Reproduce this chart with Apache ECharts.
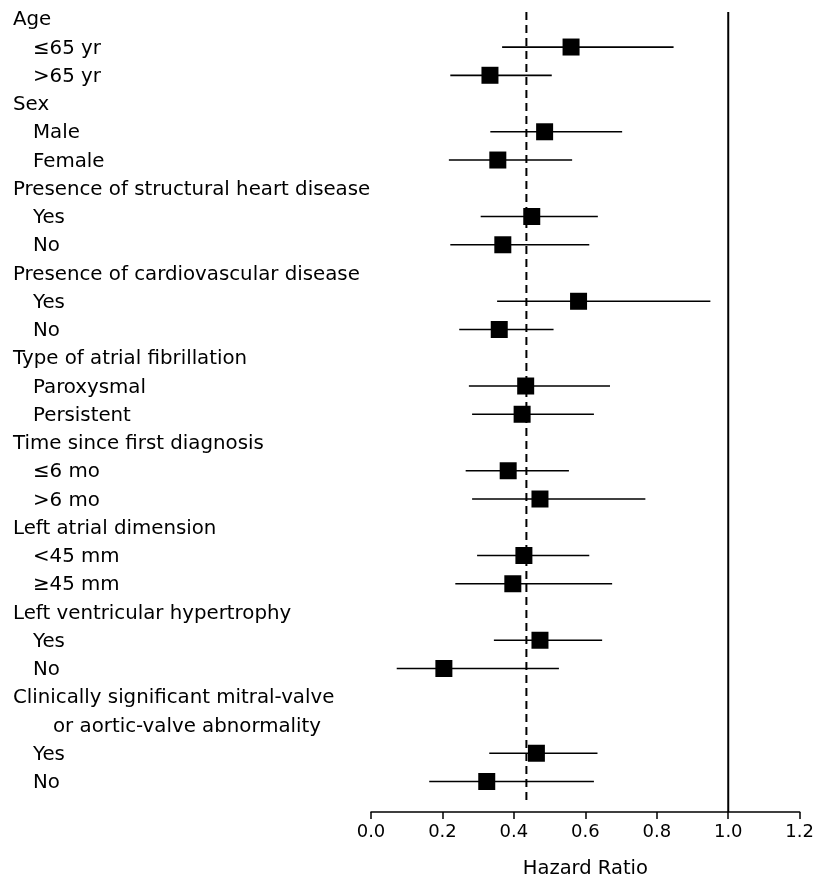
<!DOCTYPE html>
<html>
<head>
<meta charset="utf-8">
<script src="https://cdn.jsdelivr.net/npm/echarts@6/dist/echarts.min.js"></script>
<style>
  html, body { margin: 0; padding: 0; background: #fff; }
  #chart { width: 817px; height: 884px; }
</style>
</head>
<body>
<div id="chart"></div>
<script>
// rows top to bottom; level 0 = group heading, 1 = subgroup, 2 = heading continuation
const rowLabels = [
  "Age", "≤65 yr", ">65 yr",
  "Sex", "Male", "Female",
  "Presence of structural heart disease", "Yes", "No",
  "Presence of cardiovascular disease", "Yes", "No",
  "Type of atrial fibrillation", "Paroxysmal", "Persistent",
  "Time since first diagnosis", "≤6 mo", ">6 mo",
  "Left atrial dimension", "<45 mm", "≥45 mm",
  "Left ventricular hypertrophy", "Yes", "No",
  "Clinically significant mitral-valve", "or aortic-valve abnormality", "Yes", "No"
];
const rowLevel = [0,1,1, 0,1,1, 0,1,1, 0,1,1, 0,1,1, 0,1,1, 0,1,1, 0,1,1, 0,2,1,1];

const hazardRatio = [null, 0.56, 0.333, null, 0.486, 0.355, null, 0.45, 0.369, null, 0.581, 0.359,
  null, 0.433, 0.423, null, 0.384, 0.473, null, 0.428, 0.397, null, 0.473, 0.204, null, null, 0.463, 0.324];
const ciLow = [null, 0.367, 0.222, null, 0.334, 0.218, null, 0.307, 0.222, null, 0.353, 0.247,
  null, 0.274, 0.283, null, 0.265, 0.283, null, 0.297, 0.236, null, 0.344, 0.072, null, null, 0.331, 0.163];
const ciHigh = [null, 0.847, 0.506, null, 0.703, 0.563, null, 0.635, 0.611, null, 0.95, 0.511,
  null, 0.669, 0.624, null, 0.554, 0.768, null, 0.611, 0.675, null, 0.647, 0.526, null, null, 0.634, 0.624];

const overallHR = 0.435;

const chart = echarts.init(document.getElementById("chart"));

const rows = rowLabels.map((_, i) => i);
const ciData = [];
const pointData = [];
rows.forEach((i) => {
  if (hazardRatio[i] != null) {
    ciData.push([ciLow[i], ciHigh[i], i]);
    pointData.push([hazardRatio[i], i]);
  }
});

const FONT = "DejaVu Sans";

chart.setOption({
  animation: false,
  grid: { left: 371, right: 15, top: 12, bottom: 71 },
  xAxis: {
    type: "value",
    min: 0,
    max: 1.2,
    interval: 0.2,
    axisLine: { onZero: false, lineStyle: { color: "#000", width: 1.5 } },
    axisTick: { length: 7, lineStyle: { color: "#000", width: 1.5 } },
    splitLine: { show: false },
    axisLabel: {
      margin: 11,
      color: "#000",
      fontFamily: FONT,
      fontSize: 18,
      formatter: (v) => v.toFixed(1),
    },
    name: "Hazard Ratio",
    nameLocation: "middle",
    nameGap: 47,
    nameTextStyle: { color: "#000", fontFamily: FONT, fontSize: 19.5 },
  },
  yAxis: {
    type: "value",
    inverse: true,
    min: -0.24,
    max: 28.08,
    axisLine: { show: false },
    axisTick: { show: false },
    splitLine: { show: false },
    axisLabel: {
      customValues: rows,
      margin: 358,
      align: "left",
      formatter: (v) => "{l" + rowLevel[v] + "|" + rowLabels[v] + "}",
      rich: {
        l0: { color: "#000", fontFamily: FONT, fontSize: 19.8, padding: [3, 0, 0, 0] },
        l1: { color: "#000", fontFamily: FONT, fontSize: 19.8, padding: [3, 0, 0, 20] },
        l2: { color: "#000", fontFamily: FONT, fontSize: 19.8, padding: [3, 0, 0, 40] },
      },
    },
  },
  series: [
    {
      type: "line",
      data: [[1.0, -0.24], [1.0, 28.08]],
      symbol: "none",
      lineStyle: { color: "#000", width: 2 },
      silent: true,
    },
    {
      type: "line",
      data: [[overallHR, -0.24], [overallHR, 27.75]],
      symbol: "none",
      lineStyle: { color: "#000", width: 2, type: [8, 5] },
      silent: true,
    },
    {
      type: "custom",
      data: ciData,
      renderItem: (params, api) => {
        const a = api.coord([api.value(0), api.value(2)]);
        const b = api.coord([api.value(1), api.value(2)]);
        return {
          type: "line",
          shape: { x1: a[0], y1: a[1], x2: b[0], y2: b[1] },
          style: { stroke: "#000", lineWidth: 1.7 },
        };
      },
      z: 3,
    },
    {
      type: "scatter",
      data: pointData,
      symbol: "rect",
      symbolSize: 17,
      itemStyle: { color: "#000", opacity: 1 },
      z: 4,
    },
  ],
});
</script>
</body>
</html>
